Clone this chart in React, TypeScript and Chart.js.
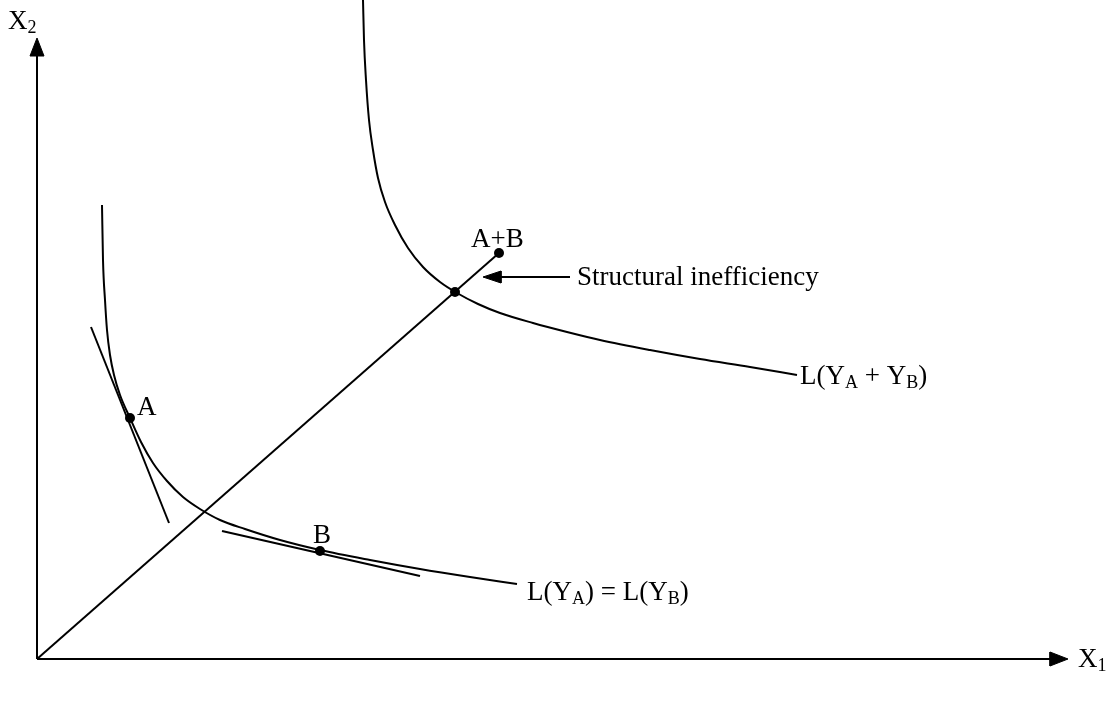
import React, { useEffect, useRef } from "react";
import { Chart, registerables } from "chart.js";

Chart.register(...registerables);

// Diagram coordinates: origin of the X1/X2 axes is (0,0)
const upperCurveX = [326, 327, 329, 332, 336, 341, 348, 358, 371, 386, 403, 420, 441, 463, 496, 530, 563, 613, 663, 713, 760];
const upperCurveY = [659, 619, 579, 539, 509, 481, 457, 434, 411, 392, 377, 366, 355, 346, 336, 327, 319, 309, 300, 292, 284];

const lowerCurveX = [65, 66, 68, 70, 73, 77, 83, 93, 104, 116, 130, 146, 163, 183, 208, 243, 283, 333, 383, 433, 480];
const lowerCurveY = [454, 399, 359, 329, 304, 284, 264, 241, 217, 196, 178, 162, 150, 139, 130, 119, 109, 99, 90, 82, 75];

const rayX = [0, 462];
const rayY = [0, 406];

const tangentAX = [54, 132];
const tangentAY = [332, 136];
const tangentBX = [185, 383];
const tangentBY = [128, 83];

const pointsX = [93, 283, 418, 462];
const pointsY = [241, 108, 367, 406];

const xAxisX = [0, 1016];
const xAxisY = [0, 0];
const yAxisX = [0, 0];
const yAxisY = [0, 606];
const xArrowX = [1031, 1013, 1013, 1031];
const xArrowY = [0, 7, -7, 0];
const yArrowX = [0, -7, 7, 0];
const yArrowY = [621, 603, 603, 621];

const pointerLineX = [533, 460];
const pointerLineY = [382, 382];
const pointerHeadX = [446, 464, 464, 446];
const pointerHeadY = [382, 388, 376, 382];

type Seg = { t: string; sub?: boolean };
const labelTexts: Seg[][] = [
  [{ t: "X" }, { t: "2", sub: true }],
  [{ t: "X" }, { t: "1", sub: true }],
  [{ t: "A+B" }],
  [{ t: "Structural inefficiency" }],
  [{ t: "L(Y" }, { t: "A", sub: true }, { t: " + Y" }, { t: "B", sub: true }, { t: ")" }],
  [{ t: "A" }],
  [{ t: "B" }],
  [{ t: "L(Y" }, { t: "A", sub: true }, { t: ") = L(Y" }, { t: "B", sub: true }, { t: ")" }],
];
const labelX = [-29, 1041, 434, 540, 763, 100, 276, 490];
const labelY = [630, -8, 412, 374, 275, 244, 116, 59];

const FONT = "'Liberation Serif', 'Times New Roman', serif";
const MAIN_SIZE = 27;
const SUB_SIZE = 18;

const zip = (xs: number[], ys: number[]) => xs.map((x, i) => ({ x, y: ys[i] }));

const line = (xs: number[], ys: number[], smooth = false) => ({
  data: zip(xs, ys),
  showLine: true,
  borderColor: "#000",
  borderWidth: 2,
  pointRadius: 0,
  tension: smooth ? 0.4 : 0,
  cubicInterpolationMode: smooth ? "monotone" : "default",
  fill: false,
});

const shape = (xs: number[], ys: number[]) => ({
  data: zip(xs, ys),
  showLine: true,
  borderColor: "#000",
  backgroundColor: "#000",
  borderWidth: 1,
  pointRadius: 0,
  tension: 0,
  fill: "shape",
});

const labelPlugin = {
  id: "labels",
  afterDatasetsDraw(chart: any) {
    const ctx = chart.ctx;
    const xs = chart.scales.x;
    const ys = chart.scales.y;
    ctx.save();
    ctx.fillStyle = "#000";
    ctx.textBaseline = "alphabetic";
    ctx.textAlign = "left";
    labelTexts.forEach((segs, i) => {
      let px = xs.getPixelForValue(labelX[i]);
      const py = ys.getPixelForValue(labelY[i]);
      segs.forEach((s) => {
        ctx.font = `${s.sub ? SUB_SIZE : MAIN_SIZE}px ${FONT}`;
        ctx.fillText(s.t, px, s.sub ? py + 4 : py);
        px += ctx.measureText(s.t).width;
      });
    });
    ctx.restore();
  },
};

export default function App() {
  const ref = useRef<HTMLCanvasElement | null>(null);
  useEffect(() => {
    if (!ref.current) return;
    const chart = new Chart(ref.current, {
      type: "scatter",
      data: {
        datasets: [
          line(xAxisX, xAxisY),
          line(yAxisX, yAxisY),
          shape(xArrowX, xArrowY),
          shape(yArrowX, yArrowY),
          line(rayX, rayY),
          line(upperCurveX, upperCurveY, true),
          line(lowerCurveX, lowerCurveY, true),
          line(tangentAX, tangentAY),
          line(tangentBX, tangentBY),
          line(pointerLineX, pointerLineY),
          shape(pointerHeadX, pointerHeadY),
          {
            data: zip(pointsX, pointsY),
            showLine: false,
            pointRadius: 5,
            pointBackgroundColor: "#000",
            pointBorderColor: "#000",
            pointBorderWidth: 0,
          },
        ] as any,
      },
      options: {
        animation: false,
        responsive: false,
        maintainAspectRatio: false,
        layout: { padding: 0, autoPadding: false },
        plugins: { legend: { display: false }, tooltip: { enabled: false } },
        events: [],
        scales: {
          x: { type: "linear", min: -37, max: 1078, display: false },
          y: { type: "linear", min: -45, max: 659, display: false },
        },
      },
      plugins: [labelPlugin],
    });
    return () => chart.destroy();
  }, []);
  return (
    <div style={{ position: "fixed", left: 0, top: 0, width: 1115, height: 704, background: "#fff" }}>
      <canvas ref={ref} width={1115} height={704} style={{ display: "block" }} />
    </div>
  );
}
